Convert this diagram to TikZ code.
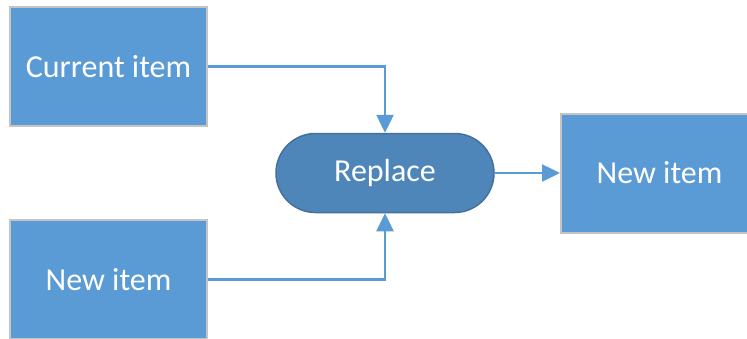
\documentclass[tikz,border=0pt]{standalone}
\usepackage{fontspec}
\setmainfont{Carlito}
\usetikzlibrary{arrows.meta,shapes.misc}
\definecolor{itemblue}{HTML}{5B9BD5}
\definecolor{itemedge}{HTML}{C4C4C4}
\definecolor{procfill}{HTML}{4F86BA}
\definecolor{procedge}{HTML}{41719C}
\tikzset{
  itembox/.style={rectangle, fill=itemblue, draw=itemedge, line width=2pt,
    minimum width=197pt, minimum height=119pt, inner sep=0pt,
    text=white, font=\fontsize{32}{38}\selectfont},
  procbox/.style={rounded rectangle, fill=procfill, draw=procedge, line width=1.5pt,
    minimum width=218pt, minimum height=79pt, inner sep=0pt,
    text=white, font=\fontsize{32}{38}\selectfont},
  flow/.style={draw=itemblue, line width=2.5pt,
    -{Triangle[length=18pt,width=17pt]}},
}
\begin{document}
\begin{tikzpicture}[x=1pt,y=-1pt]
  \useasboundingbox (0,0) rectangle (747,338);
  \clip (0,0) rectangle (747,338);
  \fill[white] (0,0) rectangle (747,338);
  \node[itembox] (cur) at (108.5,66.5) {Current item};
  \node[itembox] (newin) at (108.5,279.5) {New item};
  \node[procbox] (rep) at (385,173) {Replace};
  \node[itembox] (newout) at (659.5,173) {New item};
  \draw[flow] (cur.east) -| (rep.north);
  \draw[flow] (newin.east) -| (rep.south);
  \draw[flow] (rep.east) -- (newout.west);
\end{tikzpicture}
\end{document}
